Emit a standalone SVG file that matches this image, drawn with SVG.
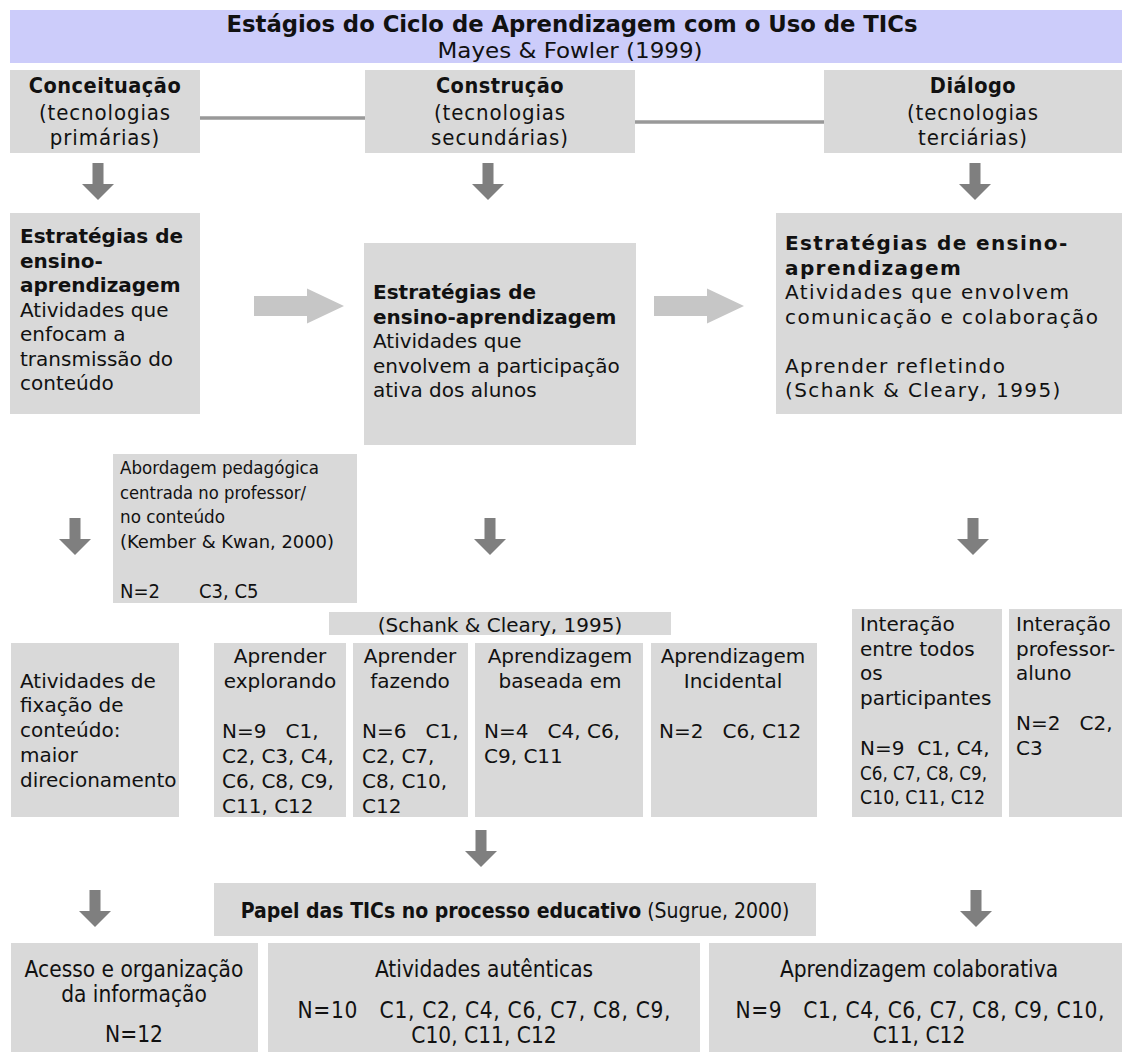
<svg xmlns="http://www.w3.org/2000/svg" width="1126" height="1052" viewBox="0 0 1126 1052">
<defs>
<style>
text{white-space:pre}
.box{fill:#d9d9d9}
.t{font-family:"DejaVu Sans",Verdana,sans-serif;font-size:20px;fill:#111}
.b{font-weight:bold}
.c{font-family:"DejaVu Sans Condensed","DejaVu Sans",sans-serif;font-stretch:condensed;fill:#111}
.mid{text-anchor:middle}
.hd{font-size:21.5px;font-weight:bold;letter-spacing:0.5px}
.sub{font-size:22px;letter-spacing:0.9px}
</style>
<path id="dn" d="M-5.5,0 h11 v21 h10.5 l-16,16 l-16,-16 h10.5 z" fill="#7f7f7f"/>
<path id="rt" d="M0,-10 h53 v-7.5 l37,17.5 l-37,17.5 v-7.5 h-53 z" fill="#c6c6c6"/>
</defs>
<rect width="1126" height="1052" fill="#fff"/>

<g id="connectors">
<line x1="200" y1="118" x2="365" y2="118" stroke="#999" stroke-width="3.5"/>
<line x1="635" y1="122" x2="824" y2="122" stroke="#999" stroke-width="3.5"/>
<use href="#dn" x="98" y="163"/>
<use href="#dn" x="488" y="163"/>
<use href="#dn" x="975" y="163"/>
<use href="#rt" x="254" y="306"/>
<use href="#rt" x="654" y="306"/>
<use href="#dn" x="75" y="518"/>
<use href="#dn" x="490" y="518"/>
<use href="#dn" x="973" y="518"/>
<use href="#dn" x="481" y="830"/>
<use href="#dn" x="95" y="890"/>
<use href="#dn" x="976" y="890"/>
</g>

<g id="title">
<rect x="10" y="10" width="1112" height="53" fill="#ccccfa"/>
<text x="572" y="32" class="c b mid" font-size="23" textLength="691" lengthAdjust="spacingAndGlyphs">Estágios do Ciclo de Aprendizagem com o Uso de TICs</text>
<text x="570" y="58" class="c mid" font-size="22" textLength="265" lengthAdjust="spacingAndGlyphs">Mayes &amp; Fowler (1999)</text>
</g>

<g id="conceituacao">
<rect class="box" x="10" y="70" width="190" height="83"/>
<text class="c mid"><tspan x="105" y="93" class="hd">Conceituação</tspan><tspan x="105" y="119.5" class="sub">(tecnologias</tspan><tspan x="105" y="145" class="sub">primárias)</tspan></text>
</g>
<g id="construcao">
<rect class="box" x="365" y="70" width="270" height="83"/>
<text class="c mid"><tspan x="500" y="93" class="hd">Construção</tspan><tspan x="500" y="119.5" class="sub">(tecnologias</tspan><tspan x="500" y="145" class="sub">secundárias)</tspan></text>
</g>
<g id="dialogo">
<rect class="box" x="824" y="70" width="298" height="83"/>
<text class="c mid"><tspan x="973" y="93" class="hd">Diálogo</tspan><tspan x="973" y="119.5" class="sub">(tecnologias</tspan><tspan x="973" y="145" class="sub">terciárias)</tspan></text>
</g>

<g id="estrategias-1">
<rect class="box" x="10" y="213" width="190" height="201"/>
<text class="t"><tspan x="20" y="243" class="b">Estratégias de</tspan><tspan x="20" y="267.5" class="b">ensino-</tspan><tspan x="20" y="292" class="b">aprendizagem</tspan><tspan x="20" y="316.5">Atividades que</tspan><tspan x="20" y="341">enfocam a</tspan><tspan x="20" y="365.5">transmissão do</tspan><tspan x="20" y="390">conteúdo</tspan></text>
</g>
<g id="estrategias-2">
<rect class="box" x="364" y="243" width="272" height="202"/>
<text class="t"><tspan x="373" y="299" class="b">Estratégias de</tspan><tspan x="373" y="323.5" class="b">ensino-aprendizagem</tspan><tspan x="373" y="348">Atividades que</tspan><tspan x="373" y="372.5">envolvem a participação</tspan><tspan x="373" y="397">ativa dos alunos</tspan></text>
</g>
<g id="estrategias-3">
<rect class="box" x="776" y="213" width="346" height="201"/>
<text class="t" letter-spacing="1.4"><tspan x="785" y="250" class="b">Estratégias de ensino-</tspan><tspan x="785" y="274.5" class="b">aprendizagem</tspan><tspan x="785" y="299">Atividades que envolvem</tspan><tspan x="785" y="323.5">comunicação e colaboração</tspan><tspan x="785" y="372.5">Aprender refletindo</tspan><tspan x="785" y="397">(Schank &amp; Cleary, 1995)</tspan></text>
</g>

<g id="abordagem">
<rect class="box" x="113" y="454" width="244" height="149"/>
<text class="c" font-size="18"><tspan x="120" y="474" textLength="199" lengthAdjust="spacingAndGlyphs">Abordagem pedagógica</tspan><tspan x="120" y="499" textLength="186" lengthAdjust="spacingAndGlyphs">centrada no professor/</tspan><tspan x="120" y="523" textLength="105" lengthAdjust="spacingAndGlyphs">no conteúdo</tspan><tspan x="120" y="548" textLength="214" lengthAdjust="spacingAndGlyphs">(Kember &amp; Kwan, 2000)</tspan><tspan x="120" y="598" font-size="20">N=2</tspan><tspan x="199" y="598" font-size="20">C3, C5</tspan></text>
</g>

<g id="schank">
<rect class="box" x="329" y="612" width="342" height="23"/>
<text x="500" y="632" class="t mid">(Schank &amp; Cleary, 1995)</text>
</g>

<g id="fixacao">
<rect class="box" x="11" y="643" width="168" height="174"/>
<text class="t" font-size="20.5"><tspan x="20" y="688">Atividades de</tspan><tspan x="20" y="712">fixação de</tspan><tspan x="20" y="737">conteúdo:</tspan><tspan x="20" y="762">maior</tspan><tspan x="20" y="787">direcionamento</tspan></text>
</g>
<g id="explorando">
<rect class="box" x="214" y="643" width="132" height="174"/>
<text class="t" font-size="20.5"><tspan x="280" y="663" class="mid">Aprender</tspan><tspan x="280" y="688" class="mid">explorando</tspan><tspan x="222" y="738">N=9   C1,</tspan><tspan x="222" y="763">C2, C3, C4,</tspan><tspan x="222" y="788">C6, C8, C9,</tspan><tspan x="222" y="813">C11, C12</tspan></text>
</g>
<g id="fazendo">
<rect class="box" x="353" y="643" width="115" height="174"/>
<text class="t" font-size="20.5"><tspan x="410" y="663" class="mid">Aprender</tspan><tspan x="410" y="688" class="mid">fazendo</tspan><tspan x="362" y="738">N=6   C1,</tspan><tspan x="362" y="763">C2, C7,</tspan><tspan x="362" y="788">C8, C10,</tspan><tspan x="362" y="813">C12</tspan></text>
</g>
<g id="baseada">
<rect class="box" x="475" y="643" width="168" height="174"/>
<text class="t" font-size="20.5"><tspan x="560" y="663" class="mid">Aprendizagem</tspan><tspan x="560" y="688" class="mid">baseada em</tspan><tspan x="484" y="738">N=4   C4, C6,</tspan><tspan x="484" y="763">C9, C11</tspan></text>
</g>
<g id="incidental">
<rect class="box" x="651" y="643" width="166" height="174"/>
<text class="t" font-size="20.5"><tspan x="733" y="663" class="mid">Aprendizagem</tspan><tspan x="733" y="688" class="mid">Incidental</tspan><tspan x="659" y="738">N=2   C6, C12</tspan></text>
</g>
<g id="interacao-todos">
<rect class="box" x="852" y="609" width="150" height="208"/>
<text class="t" font-size="20.5"><tspan x="860" y="631">Interação</tspan><tspan x="860" y="656">entre todos</tspan><tspan x="860" y="680">os</tspan><tspan x="860" y="705">participantes</tspan><tspan x="860" y="755">N=9  C1, C4,</tspan><tspan x="860" y="780" textLength="127" lengthAdjust="spacingAndGlyphs">C6, C7, C8, C9,</tspan><tspan x="860" y="804" textLength="125" lengthAdjust="spacingAndGlyphs">C10, C11, C12</tspan></text>
</g>
<g id="interacao-prof">
<rect class="box" x="1009" y="609" width="113" height="208"/>
<text class="t" font-size="20.5"><tspan x="1016" y="631">Interação</tspan><tspan x="1016" y="656">professor-</tspan><tspan x="1016" y="680">aluno</tspan><tspan x="1016" y="730">N=2   C2,</tspan><tspan x="1016" y="755">C3</tspan></text>
</g>

<g id="papel">
<rect class="box" x="214" y="883" width="602" height="53"/>
<text x="515" y="918" class="c mid" font-size="21"><tspan class="b">Papel das TICs no processo educativo</tspan> (Sugrue, 2000)</text>
</g>

<g id="acesso">
<rect class="box" x="11" y="943" width="247" height="109"/>
<text class="c mid" font-size="22.5"><tspan x="134" y="977">Acesso e organização</tspan><tspan x="134" y="1002">da informação</tspan><tspan x="134" y="1042">N=12</tspan></text>
</g>
<g id="autenticas">
<rect class="box" x="268" y="943" width="432" height="109"/>
<text class="c mid" font-size="22.5"><tspan x="484" y="977">Atividades autênticas</tspan><tspan x="484" y="1018" textLength="373" lengthAdjust="spacing">N=10   C1, C2, C4, C6, C7, C8, C9,</tspan><tspan x="484" y="1043">C10, C11, C12</tspan></text>
</g>
<g id="colaborativa">
<rect class="box" x="709" y="943" width="413" height="109"/>
<text class="c mid" font-size="22.5"><tspan x="919" y="977">Aprendizagem colaborativa</tspan><tspan x="920" y="1018" textLength="369" lengthAdjust="spacing">N=9   C1, C4, C6, C7, C8, C9, C10,</tspan><tspan x="919" y="1043">C11, C12</tspan></text>
</g>
</svg>
